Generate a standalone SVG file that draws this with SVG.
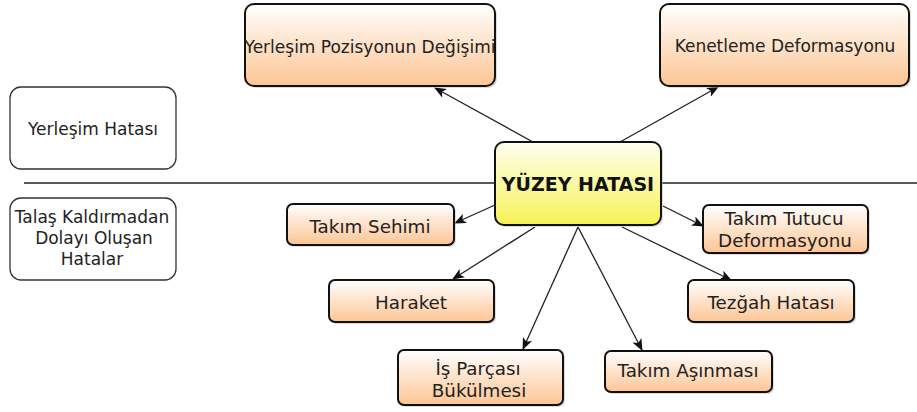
<svg xmlns="http://www.w3.org/2000/svg" width="917" height="412" viewBox="0 0 917 412">
<defs>
<linearGradient id="peach" x1="0" y1="0" x2="0" y2="1">
<stop offset="0" stop-color="#ffffff"/>
<stop offset="1" stop-color="#fdc594"/>
</linearGradient>
<linearGradient id="yellow" x1="0" y1="0" x2="0" y2="1">
<stop offset="0" stop-color="#ffffee"/>
<stop offset="1" stop-color="#f6f257"/>
</linearGradient>
<marker id="arr" viewBox="0 0 12 10" refX="11" refY="5" markerWidth="12" markerHeight="10" markerUnits="userSpaceOnUse" orient="auto">
<path d="M0,0 L12,5 L0,10 L3,5 Z" fill="#111"/>
</marker>
<clipPath id="clipTL"><rect x="245" y="4" width="250" height="82" rx="9"/></clipPath>
</defs>
<style>
text{font-family:"DejaVu Sans","Liberation Sans",sans-serif;fill:#222;text-anchor:middle}
.n{stroke:#111;stroke-width:2;fill:url(#peach)}
.sh{fill:#bbb;opacity:0.5}
.lg{stroke:#333;stroke-width:1.3;fill:#fff}
.c line{stroke:#222;stroke-width:1.3;marker-end:url(#arr)}
.t17{font-size:17px}
.t18{font-size:18.3px}
</style>
<rect width="917" height="412" fill="#fff"/>
<line x1="24" y1="183" x2="917" y2="183" stroke="#222" stroke-width="1.3"/>
<g id="legend-yerlesim">
<rect class="lg" x="10" y="87" width="166" height="82" rx="11"/>
<text class="t17" x="93" y="135">Yerleşim Hatası</text>
</g>
<g id="legend-talas">
<rect class="lg" x="10" y="198" width="166" height="82" rx="11"/>
<text class="t17" x="92" y="223">Talaş Kaldırmadan</text>
<text class="t17" x="94" y="244">Dolayı Oluşan</text>
<text class="t17" x="92" y="265">Hatalar</text>
</g>
<g class="c" id="connectors">
<line x1="533" y1="142" x2="435" y2="88"/>
<line x1="620" y1="142" x2="718" y2="87"/>
<line x1="495" y1="205" x2="455" y2="223"/>
<line x1="535" y1="227" x2="453" y2="279"/>
<line x1="663" y1="206" x2="703" y2="226"/>
<line x1="622" y1="227" x2="731" y2="280"/>
<line x1="578" y1="227" x2="523" y2="349"/>
<line x1="578" y1="227" x2="642" y2="350"/>
</g>
<g id="n-yerlesim-pozisyon">
<rect class="sh" x="247" y="6" width="250" height="82" rx="9"/>
<rect class="n" x="245" y="4" width="250" height="82" rx="9"/>
<text class="t17" x="370" y="53" clip-path="url(#clipTL)">Yerleşim Pozisyonun Değişimi</text>
</g>
<g id="n-kenetleme">
<rect class="sh" x="662" y="6" width="249" height="82" rx="9"/>
<rect class="n" x="660" y="4" width="249" height="82" rx="9"/>
<text class="t17" x="785" y="52">Kenetleme Deformasyonu</text>
</g>
<g id="n-yuzey">
<rect class="sh" x="497" y="144" width="166" height="83" rx="9"/>
<rect x="495" y="142" width="166" height="83" rx="9" fill="url(#yellow)" stroke="#111" stroke-width="2"/>
<text x="578" y="191" style="font-size:19px;font-weight:bold;fill:#111">YÜZEY HATASI</text>
</g>
<g id="n-takim-sehimi">
<rect class="sh" x="289" y="206" width="167" height="41" rx="6"/>
<rect class="n" x="287" y="204" width="167" height="41" rx="6"/>
<text class="t18" x="370" y="233">Takım Sehimi</text>
</g>
<g id="n-haraket">
<rect class="sh" x="331" y="282" width="165" height="42" rx="6"/>
<rect class="n" x="329" y="280" width="165" height="42" rx="6"/>
<text class="t18" x="411" y="309">Haraket</text>
</g>
<g id="n-takim-tutucu">
<rect class="sh" x="705" y="207" width="165" height="48" rx="6"/>
<rect class="n" x="703" y="205" width="165" height="48" rx="6"/>
<text class="t18" x="784" y="225">Takım Tutucu</text>
<text class="t18" x="785" y="247">Deformasyonu</text>
</g>
<g id="n-tezgah">
<rect class="sh" x="690" y="282" width="166" height="42" rx="6"/>
<rect class="n" x="688" y="280" width="166" height="42" rx="6"/>
<text class="t18" x="771" y="309">Tezğah Hatası</text>
</g>
<g id="n-is-parcasi">
<rect class="sh" x="400" y="352" width="165" height="55" rx="6"/>
<rect class="n" x="398" y="350" width="165" height="55" rx="6"/>
<text class="t18" x="478" y="375">İş Parçası</text>
<text class="t18" x="479" y="397">Bükülmesi</text>
</g>
<g id="n-takim-asinmasi">
<rect class="sh" x="607" y="353" width="167" height="41" rx="6"/>
<rect class="n" x="605" y="351" width="167" height="41" rx="6"/>
<text class="t18" x="688" y="377">Takım Aşınması</text>
</g>
</svg>
